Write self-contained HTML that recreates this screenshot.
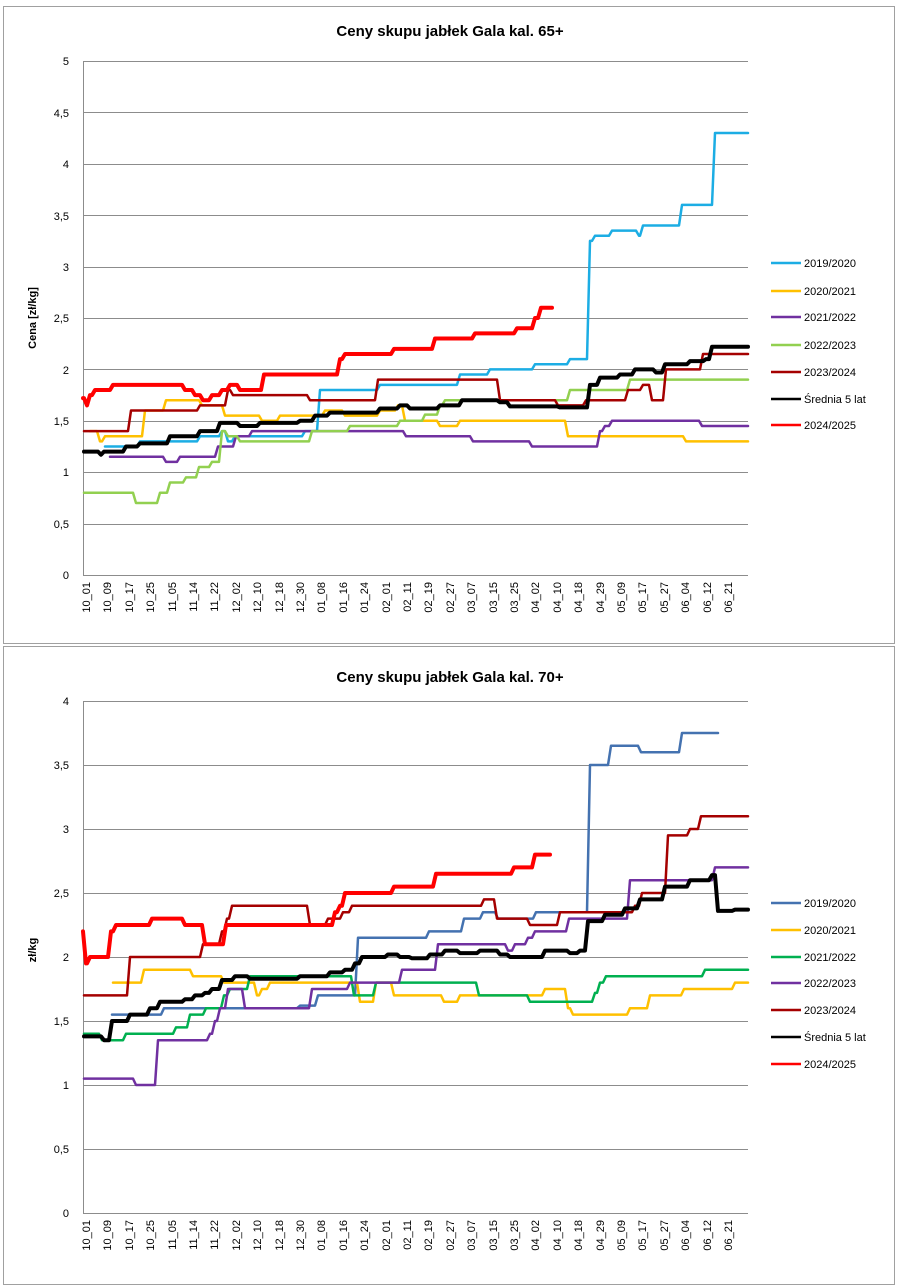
<!DOCTYPE html>
<html><head><meta charset="utf-8">
<style>
body{margin:0;background:#fff;width:900px;height:1287px;overflow:hidden;font-family:"Liberation Sans",Arial,sans-serif;}
svg{position:absolute;left:0;top:0}
text{font-family:"Liberation Sans",Arial,sans-serif;}
</style></head><body>
<svg id="s" width="900" height="1287" viewBox="0 0 900 1287">
<rect x="3.5" y="6.5" width="891" height="637" fill="#fff" stroke="#a0a0a0"/>
<rect x="3.5" y="646.5" width="891" height="638" fill="#fff" stroke="#a0a0a0"/>
<g id="grid"></g>
<text x="450" y="36" font-size="15" font-weight="bold" text-anchor="middle">Ceny skupu jabłek Gala kal. 65+</text>
<text x="450" y="682" font-size="15" font-weight="bold" text-anchor="middle">Ceny skupu jabłek Gala kal. 70+</text>
<g font-size="11" text-anchor="end">
<text x="69" y="65">5</text><text x="69" y="117">4,5</text><text x="69" y="168">4</text><text x="69" y="220">3,5</text><text x="69" y="271">3</text><text x="69" y="322">2,5</text><text x="69" y="374">2</text><text x="69" y="425">1,5</text><text x="69" y="476">1</text><text x="69" y="528">0,5</text><text x="69" y="579">0</text>
<text x="69" y="705">4</text><text x="69" y="769">3,5</text><text x="69" y="833">3</text><text x="69" y="897">2,5</text><text x="69" y="961">2</text><text x="69" y="1025">1,5</text><text x="69" y="1089">1</text><text x="69" y="1153">0,5</text><text x="69" y="1217">0</text>
</g>
<text transform="translate(36,318) rotate(-90)" font-size="11" font-weight="bold" text-anchor="middle">Cena [zł/kg]</text>
<text transform="translate(36,950) rotate(-90)" font-size="11" font-weight="bold" text-anchor="middle">zł/kg</text>
<g id="xl1" font-size="11" text-anchor="end">
<text transform="translate(90,582) rotate(-90)">10_01</text><text transform="translate(111,582) rotate(-90)">10_09</text><text transform="translate(133,582) rotate(-90)">10_17</text><text transform="translate(154,582) rotate(-90)">10_25</text><text transform="translate(176,582) rotate(-90)">11_05</text><text transform="translate(197,582) rotate(-90)">11_14</text><text transform="translate(218,582) rotate(-90)">11_22</text><text transform="translate(240,582) rotate(-90)">12_02</text><text transform="translate(261,582) rotate(-90)">12_10</text><text transform="translate(283,582) rotate(-90)">12_18</text><text transform="translate(304,582) rotate(-90)">12_30</text><text transform="translate(325,582) rotate(-90)">01_08</text><text transform="translate(347,582) rotate(-90)">01_16</text><text transform="translate(368,582) rotate(-90)">01_24</text><text transform="translate(390,582) rotate(-90)">02_01</text><text transform="translate(411,582) rotate(-90)">02_11</text><text transform="translate(432,582) rotate(-90)">02_19</text><text transform="translate(454,582) rotate(-90)">02_27</text><text transform="translate(475,582) rotate(-90)">03_07</text><text transform="translate(497,582) rotate(-90)">03_15</text><text transform="translate(518,582) rotate(-90)">03_25</text><text transform="translate(539,582) rotate(-90)">04_02</text><text transform="translate(561,582) rotate(-90)">04_10</text><text transform="translate(582,582) rotate(-90)">04_18</text><text transform="translate(604,582) rotate(-90)">04_29</text><text transform="translate(625,582) rotate(-90)">05_09</text><text transform="translate(646,582) rotate(-90)">05_17</text><text transform="translate(668,582) rotate(-90)">05_27</text><text transform="translate(689,582) rotate(-90)">06_04</text><text transform="translate(711,582) rotate(-90)">06_12</text><text transform="translate(732,582) rotate(-90)">06_21</text>
</g>
<g font-size="11" text-anchor="end">
<text transform="translate(90,1220) rotate(-90)">10_01</text><text transform="translate(111,1220) rotate(-90)">10_09</text><text transform="translate(133,1220) rotate(-90)">10_17</text><text transform="translate(154,1220) rotate(-90)">10_25</text><text transform="translate(176,1220) rotate(-90)">11_05</text><text transform="translate(197,1220) rotate(-90)">11_14</text><text transform="translate(218,1220) rotate(-90)">11_22</text><text transform="translate(240,1220) rotate(-90)">12_02</text><text transform="translate(261,1220) rotate(-90)">12_10</text><text transform="translate(283,1220) rotate(-90)">12_18</text><text transform="translate(304,1220) rotate(-90)">12_30</text><text transform="translate(325,1220) rotate(-90)">01_08</text><text transform="translate(347,1220) rotate(-90)">01_16</text><text transform="translate(368,1220) rotate(-90)">01_24</text><text transform="translate(390,1220) rotate(-90)">02_01</text><text transform="translate(411,1220) rotate(-90)">02_11</text><text transform="translate(432,1220) rotate(-90)">02_19</text><text transform="translate(454,1220) rotate(-90)">02_27</text><text transform="translate(475,1220) rotate(-90)">03_07</text><text transform="translate(497,1220) rotate(-90)">03_15</text><text transform="translate(518,1220) rotate(-90)">03_25</text><text transform="translate(539,1220) rotate(-90)">04_02</text><text transform="translate(561,1220) rotate(-90)">04_10</text><text transform="translate(582,1220) rotate(-90)">04_18</text><text transform="translate(604,1220) rotate(-90)">04_29</text><text transform="translate(625,1220) rotate(-90)">05_09</text><text transform="translate(646,1220) rotate(-90)">05_17</text><text transform="translate(668,1220) rotate(-90)">05_27</text><text transform="translate(689,1220) rotate(-90)">06_04</text><text transform="translate(711,1220) rotate(-90)">06_12</text><text transform="translate(732,1220) rotate(-90)">06_21</text>
</g>
<g font-size="11">
<text x="804" y="267">2019/2020</text><text x="804" y="295">2020/2021</text><text x="804" y="321">2021/2022</text><text x="804" y="349">2022/2023</text><text x="804" y="376">2023/2024</text><text x="804" y="403">Średnia 5 lat</text><text x="804" y="429">2024/2025</text>
<text x="804" y="907">2019/2020</text><text x="804" y="934">2020/2021</text><text x="804" y="961">2021/2022</text><text x="804" y="987">2022/2023</text><text x="804" y="1014">2023/2024</text><text x="804" y="1041">Średnia 5 lat</text><text x="804" y="1068">2024/2025</text>
</g>
<g stroke-width="2.5">
<line x1="771" x2="801" y1="263" y2="263" stroke="#1CADE4"/><line x1="771" x2="801" y1="291" y2="291" stroke="#FFC000"/><line x1="771" x2="801" y1="317" y2="317" stroke="#7030A0"/><line x1="771" x2="801" y1="345" y2="345" stroke="#92D050"/><line x1="771" x2="801" y1="372" y2="372" stroke="#A50000"/><line x1="771" x2="801" y1="399" y2="399" stroke="#000"/><line x1="771" x2="801" y1="425" y2="425" stroke="#FF0000"/>
<line x1="771" x2="801" y1="903" y2="903" stroke="#4472B0"/><line x1="771" x2="801" y1="930" y2="930" stroke="#FFC000"/><line x1="771" x2="801" y1="957" y2="957" stroke="#00B050"/><line x1="771" x2="801" y1="983" y2="983" stroke="#7030A0"/><line x1="771" x2="801" y1="1010" y2="1010" stroke="#A50000"/><line x1="771" x2="801" y1="1037" y2="1037" stroke="#000"/><line x1="771" x2="801" y1="1064" y2="1064" stroke="#FF0000"/>
</g>
<g id="series" fill="none" stroke-linejoin="round" stroke-linecap="round"></g>
</svg>
<script>
var NS="http://www.w3.org/2000/svg";
var g=document.getElementById('grid');
function ln(x1,y1,x2,y2,c,w){var l=document.createElementNS(NS,'line');l.setAttribute('x1',x1);l.setAttribute('y1',y1);l.setAttribute('x2',x2);l.setAttribute('y2',y2);l.setAttribute('stroke',c);l.setAttribute('stroke-width',w);g.appendChild(l);}
for(var i=0;i<=10;i++){var y=Math.round(575-i*51.4)+0.5;ln(83,y,748,y,'#8c8c8c',1);}
for(var i=0;i<=8;i++){var y=1213-i*64+0.5;ln(83,y,748,y,'#8c8c8c',1);}
ln(83.5,61,83.5,575.5,'#8c8c8c',1);ln(83.5,701,83.5,1213.5,'#8c8c8c',1);
var S=document.getElementById('series');
function draw(pts,y0,sc,c,w){var d='';var py=null;for(var i=0;i<pts.length;i++){var x=pts[i][0],y=y0-pts[i][1]*sc;if(i==0)d='M'+x+' '+y;else{d+=' L'+(x-3)+' '+py+' L'+x+' '+y;}py=y;}
var p=document.createElementNS(NS,'path');p.setAttribute('d',d);p.setAttribute('stroke',c);p.setAttribute('stroke-width',w);S.appendChild(p);}
var A=575,B=102.8;
draw([[105,1.25],[140,1.3],[200,1.35],[222,1.4],[228,1.3],[235,1.35],[305,1.4],[320,1.8],[380,1.85],[460,1.95],[490,2.0],[535,2.05],[570,2.1],[582,2.1],[590,3.25],[595,3.3],[612,3.35],[636,3.35],[639,3.3],[643,3.4],[678,3.4],[682,3.6],[710,3.6],[715,4.3],[748,4.3]],A,B,'#1CADE4',2.5);
draw([[90,1.4],[100,1.3],[105,1.35],[140,1.35],[145,1.6],[166,1.7],[196,1.7],[202,1.65],[225,1.55],[262,1.5],[280,1.55],[325,1.6],[345,1.55],[380,1.6],[398,1.65],[405,1.5],[440,1.45],[460,1.5],[565,1.5],[568,1.35],[682,1.35],[686,1.3],[748,1.3]],A,B,'#FFC000',2.5);
draw([[110,1.15],[166,1.1],[180,1.15],[218,1.25],[236,1.35],[252,1.4],[402,1.4],[406,1.35],[470,1.35],[473,1.3],[528,1.3],[532,1.25],[592,1.25],[600,1.4],[605,1.45],[612,1.5],[697,1.5],[702,1.45],[748,1.45]],A,B,'#7030A0',2.5);
draw([[84,0.8],[133,0.8],[136,0.7],[155,0.7],[160,0.8],[170,0.9],[186,0.95],[199,1.05],[212,1.1],[222,1.4],[228,1.35],[240,1.3],[308,1.3],[312,1.4],[350,1.45],[400,1.5],[425,1.56],[440,1.65],[445,1.7],[565,1.7],[570,1.8],[625,1.8],[630,1.9],[748,1.9]],A,B,'#92D050',2.5);
draw([[84,1.4],[126,1.4],[131,1.6],[196,1.6],[200,1.65],[224,1.65],[228,1.8],[233,1.75],[305,1.75],[310,1.7],[372,1.7],[378,1.9],[496,1.9],[500,1.7],[555,1.7],[558,1.65],[582,1.65],[586,1.7],[625,1.7],[628,1.8],[640,1.8],[643,1.85],[648,1.85],[652,1.7],[662,1.7],[666,2.0],[698,2.0],[703,2.15],[748,2.15]],A,B,'#A50000',2.5);
draw([[84,1.2],[98,1.2],[101,1.17],[104,1.2],[120,1.2],[126,1.25],[140,1.28],[170,1.35],[200,1.4],[220,1.48],[232,1.48],[240,1.45],[260,1.48],[300,1.5],[315,1.55],[330,1.58],[370,1.58],[380,1.62],[400,1.65],[410,1.62],[440,1.65],[458,1.65],[462,1.7],[500,1.68],[510,1.64],[560,1.63],[582,1.63],[590,1.85],[600,1.92],[620,1.95],[635,2.0],[650,2.0],[656,1.97],[665,2.05],[690,2.08],[706,2.1],[712,2.22],[748,2.22]],A,B,'#000',4);
draw([[83,1.72],[87,1.65],[90,1.75],[95,1.8],[113,1.85],[180,1.85],[185,1.8],[195,1.75],[203,1.7],[212,1.75],[222,1.8],[230,1.85],[240,1.8],[260,1.8],[264,1.95],[330,1.95],[340,2.1],[345,2.15],[390,2.15],[394,2.2],[430,2.2],[435,2.3],[470,2.3],[475,2.35],[513,2.35],[517,2.4],[530,2.4],[535,2.5],[541,2.6],[552,2.6]],A,B,'#FF0000',4);
var C=1213,D=128;
draw([[112,1.55],[160,1.55],[164,1.6],[296,1.6],[300,1.62],[318,1.7],[355,1.7],[358,2.15],[425,2.15],[429,2.2],[460,2.2],[464,2.3],[480,2.3],[483,2.35],[495,2.35],[498,2.3],[532,2.3],[536,2.35],[580,2.35],[590,3.5],[606,3.5],[611,3.65],[637,3.65],[641,3.6],[678,3.6],[682,3.75],[718,3.75]],C,D,'#4472B0',2.5);
draw([[113,1.8],[140,1.8],[144,1.9],[190,1.9],[193,1.85],[220,1.85],[224,1.8],[254,1.8],[257,1.7],[262,1.75],[270,1.8],[356,1.8],[360,1.65],[372,1.65],[376,1.8],[390,1.8],[394,1.7],[440,1.7],[444,1.65],[455,1.65],[460,1.7],[540,1.7],[545,1.75],[564,1.75],[568,1.6],[573,1.55],[626,1.55],[630,1.6],[645,1.6],[650,1.7],[680,1.7],[684,1.75],[730,1.75],[735,1.8],[748,1.8]],C,D,'#FFC000',2.5);
draw([[84,1.4],[99,1.4],[102,1.35],[122,1.35],[126,1.4],[172,1.4],[176,1.45],[186,1.45],[190,1.55],[203,1.55],[206,1.6],[218,1.6],[224,1.7],[230,1.75],[244,1.75],[250,1.85],[350,1.85],[354,1.7],[372,1.7],[376,1.8],[475,1.8],[479,1.7],[526,1.7],[530,1.65],[590,1.65],[595,1.72],[600,1.8],[606,1.85],[700,1.85],[705,1.9],[748,1.9]],C,D,'#00B050',2.5);
draw([[84,1.05],[133,1.05],[136,1.0],[153,1.0],[158,1.35],[205,1.35],[210,1.4],[215,1.5],[220,1.6],[228,1.75],[240,1.75],[245,1.6],[306,1.6],[312,1.75],[345,1.75],[350,1.8],[398,1.8],[402,1.9],[432,1.9],[438,2.1],[505,2.1],[508,2.05],[515,2.1],[525,2.1],[528,2.15],[535,2.2],[565,2.2],[569,2.3],[625,2.3],[630,2.6],[710,2.6],[715,2.7],[748,2.7]],C,D,'#7030A0',2.5);
draw([[84,1.7],[125,1.7],[130,2.0],[197,2.0],[203,2.1],[222,2.2],[227,2.3],[232,2.4],[305,2.4],[310,2.25],[328,2.3],[343,2.35],[352,2.4],[480,2.4],[484,2.45],[493,2.45],[497,2.3],[526,2.3],[530,2.25],[555,2.25],[560,2.35],[630,2.35],[635,2.4],[642,2.5],[665,2.5],[668,2.95],[687,2.95],[690,3.0],[697,3.0],[701,3.1],[748,3.1]],C,D,'#A50000',2.5);
draw([[84,1.38],[98,1.38],[104,1.35],[108,1.35],[112,1.5],[125,1.5],[130,1.55],[140,1.55],[150,1.6],[160,1.65],[185,1.67],[195,1.7],[205,1.72],[212,1.75],[222,1.82],[235,1.85],[243,1.85],[250,1.83],[300,1.85],[330,1.88],[345,1.9],[355,1.95],[362,2.0],[380,2.0],[388,2.02],[400,2.0],[412,1.99],[430,2.02],[445,2.05],[460,2.03],[480,2.05],[500,2.02],[510,2.0],[545,2.05],[570,2.03],[580,2.05],[588,2.28],[605,2.33],[625,2.38],[640,2.45],[665,2.55],[690,2.6],[712,2.64],[718,2.36],[735,2.37],[748,2.37]],C,D,'#000',4);
draw([[83,2.2],[86,1.95],[90,2.0],[107,2.0],[111,2.2],[116,2.25],[148,2.25],[152,2.3],[180,2.3],[185,2.25],[200,2.25],[205,2.1],[222,2.1],[226,2.25],[330,2.25],[335,2.35],[340,2.4],[345,2.5],[390,2.5],[394,2.55],[432,2.55],[436,2.65],[510,2.65],[514,2.7],[530,2.7],[535,2.8],[550,2.8]],C,D,'#FF0000',4);
</script>
</body></html>
